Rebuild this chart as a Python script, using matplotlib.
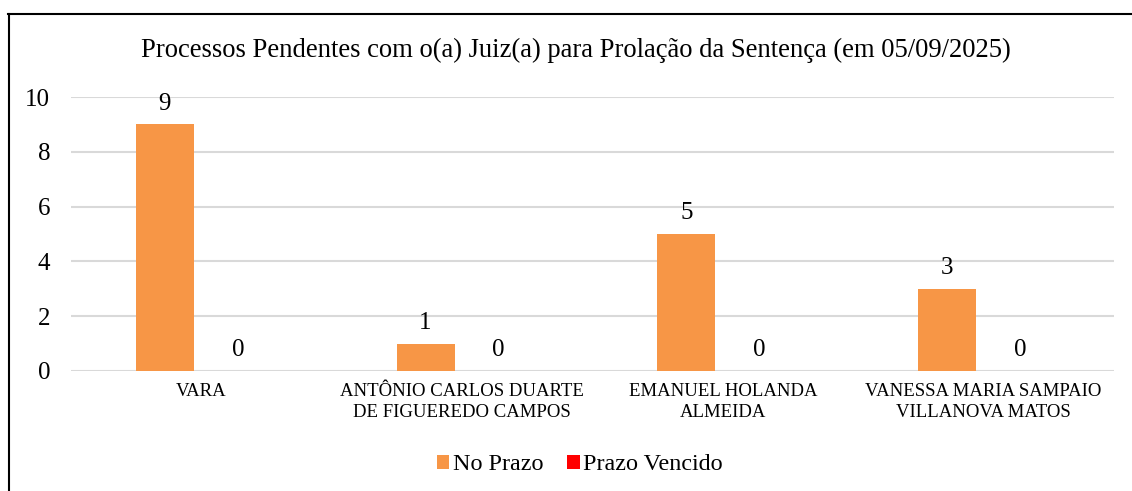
import matplotlib.pyplot as plt
from matplotlib.lines import Line2D
import numpy as np

plt.rcParams['font.family'] = ['Liberation Serif', 'DejaVu Serif']

# Data
categories = ['VARA',
              'ANTÔNIO CARLOS DUARTE\nDE FIGUEREDO CAMPOS',
              'EMANUEL HOLANDA\nALMEIDA',
              'VANESSA MARIA SAMPAIO\nVILLANOVA MATOS']
no_prazo = [9, 1, 5, 3]
prazo_vencido = [0, 0, 0, 0]
series_names = ['No Prazo', 'Prazo Vencido']
series_colors = ['#F79646', '#FF0000']
title = 'Processos Pendentes com o(a) Juiz(a) para Prolação da Sentença (em 05/09/2025)'

fig = plt.figure(figsize=(11.32, 4.91), dpi=100)
ax = fig.add_axes([0.0627, 0.2444, 0.9213, 0.558])

x = np.arange(len(categories))
width = 0.222
offset = 0.14
for vals, name, color, sign in zip([no_prazo, prazo_vencido], series_names, series_colors, [-1, 1]):
    bars = ax.bar(x + sign * offset, vals, width, color=color, label=name, zorder=3)
    for b, v in zip(bars, vals):
        ax.annotate(str(v), (b.get_x() + b.get_width() / 2, v),
                    xytext=(0, 7), textcoords='offset points',
                    ha='center', va='bottom', fontsize=18, color='#000000')

ax.set_xlim(-0.5, len(categories) - 0.5)
ax.set_ylim(0, 10)
ax.set_yticks(range(0, 11, 2))
ax.set_xticks(x)
ax.set_xticklabels(categories, fontsize=13.5, linespacing=1.3)
ax.tick_params(axis='y', length=0, pad=15, labelsize=18)
ax.tick_params(axis='x', length=0, pad=9)
ax.yaxis.grid(True, color='#D9D9D9', linewidth=1.5, zorder=0)
for s in ax.spines.values():
    s.set_visible(False)

fig.text(0.509, 0.897, title, ha='center', va='center', fontsize=19.2)

ax.legend(loc='center', bbox_to_anchor=(0.488, -0.343), ncol=2, frameon=False,
          fontsize=17.4, handlelength=0.5, handleheight=0.5, handletextpad=0.15,
          columnspacing=1.0)

# outer border (cropped on right and bottom)
fig.add_artist(Line2D([8.5 / 1132, 8.5 / 1132], [0, 1 - 13.5 / 491],
                      transform=fig.transFigure, color='black', lw=1.5))
fig.add_artist(Line2D([8 / 1132, 1], [1 - 13.5 / 491, 1 - 13.5 / 491],
                      transform=fig.transFigure, color='black', lw=1.5))

fig.savefig('out.png', dpi=100)
